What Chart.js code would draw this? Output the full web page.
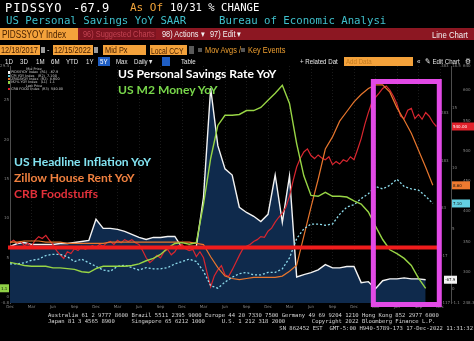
<!DOCTYPE html>
<html>
<head>
<meta charset="utf-8">
<script src="https://cdn.jsdelivr.net/npm/chart.js@4.4.0/dist/chart.umd.min.js"></script>
<style>
  html, body { margin: 0; padding: 0; background: #000; }
  body { width: 474px; height: 341px; position: relative; overflow: hidden; }
  #wrap { position: absolute; left: 0; top: 0; width: 474px; height: 341px; }
  .t { position: absolute; white-space: pre; line-height: 1; }
  .m { font-family: "DejaVu Sans Mono", monospace; }
  .n { font-family: "Liberation Sans", Arial, sans-serif; transform: scaleX(0.82); transform-origin: 0 0; }
  .box { position: absolute; }
  .lbl { position: absolute; white-space: pre; line-height: 1; font-family: Lato, "Open Sans", sans-serif;
         font-weight: 700; font-size: 12.1px; }
  #legend { position: absolute; left: 8px; top: 68px; width: 52px; font-family: "DejaVu Sans", sans-serif;
            font-size: 3.4px; color: #cfcfcf; line-height: 3.35px; }
  #legend .row { white-space: pre; height: 3.35px; }
  #legend .sq { display: inline-block; width: 2.2px; height: 2.2px; margin-right: 1px; }
  .foot { position: absolute; white-space: pre; line-height: 1; font-family: "DejaVu Sans Mono", monospace;
          font-size: 5.55px; color: #d6d6d6; }
  .r4 { font-size: 7.5px; color: #e6e6e6; top: 58px; }
</style>
</head>
<body>
<div id="wrap"><canvas id="chart"></canvas></div>

<!-- terminal header -->
<div class="t m" style="left:5px;top:1.5px;font-size:12px;color:#fff;letter-spacing:1px">PIDSSYO</div>
<div class="t m" style="left:73px;top:1.5px;font-size:12px;color:#fff">-67.9</div>
<div class="t m" style="left:130px;top:2px;font-size:11px;color:#f3a53a">As Of</div>
<div class="t m" style="left:170px;top:2px;font-size:10.6px;color:#fff">10/31 % CHANGE</div>
<div class="t m" style="left:6px;top:16px;font-size:10.7px;color:#3fc0cc">US Personal Savings YoY SAAR</div>
<div class="t m" style="left:219px;top:16px;font-size:10.7px;color:#3fc0cc">Bureau of Economic Analysi</div>

<div class="box" style="left:0;top:28px;width:474px;height:12px;background:#8c1722"></div>
<div class="box" style="left:0;top:28px;width:78px;height:12px;background:#f4a23b"></div>
<div class="t n" style="left:2px;top:29.5px;font-size:10px;color:#4a2200">PIDSSYOY Index</div>
<div class="box" style="left:80px;top:29px;width:76px;height:10px;background:#7c1420"></div>
<div class="t n" style="left:83px;top:30px;font-size:9px;color:#c34352">96) Suggested Charts</div>
<div class="t n" style="left:162px;top:30px;font-size:9px;color:#f2f2f2">98) Actions ▾</div>
<div class="t n" style="left:210px;top:30px;font-size:9px;color:#f2f2f2">97) Edit ▾</div>
<div class="t n" style="left:432px;top:29.5px;font-size:9.5px;color:#f2f2f2">Line Chart</div>

<div class="box" style="left:0;top:45px;width:40px;height:10px;background:#f4a23b"></div>
<div class="t n" style="left:1px;top:46px;font-size:9px;color:#4a2200">12/18/2017</div>
<div class="box" style="left:41px;top:47px;width:4px;height:6px;background:#9a9a9a"></div>
<div class="t n" style="left:47px;top:46px;font-size:9px;color:#d0d0d0">-</div>
<div class="box" style="left:53px;top:45px;width:40px;height:10px;background:#f4a23b"></div>
<div class="t n" style="left:54px;top:46px;font-size:9px;color:#4a2200">12/15/2022</div>
<div class="box" style="left:94px;top:47px;width:4px;height:6px;background:#9a9a9a"></div>
<div class="box" style="left:103px;top:45px;width:43px;height:10px;background:#f4a23b"></div>
<div class="t n" style="left:105px;top:46px;font-size:9px;color:#4a2200">Mid Px</div>
<div class="box" style="left:150px;top:45px;width:37px;height:10px;background:#f4a23b"></div>
<div class="t n" style="left:151px;top:46.5px;font-size:8.3px;color:#4a2200">Local CCY</div>
<div class="box" style="left:189px;top:46px;width:5px;height:8px;background:#5a5a5a"></div>
<div class="box" style="left:198px;top:48px;width:4px;height:4px;background:#555"></div>
<div class="t n" style="left:205px;top:46px;font-size:9px;color:#f0a030">Mov Avgs /</div>
<div class="box" style="left:241px;top:48px;width:4px;height:4px;background:#555"></div>
<div class="t n" style="left:248px;top:46px;font-size:9px;color:#f0a030">Key Events</div>

<div class="t n r4" style="left:5px">1D</div>
<div class="t n r4" style="left:20px">3D</div>
<div class="t n r4" style="left:36px">1M</div>
<div class="t n r4" style="left:51px">6M</div>
<div class="t n r4" style="left:66px">YTD</div>
<div class="t n r4" style="left:86px">1Y</div>
<div class="box" style="left:98px;top:57px;width:12px;height:9px;background:#1f5ec4"></div>
<div class="t n r4" style="left:100px;color:#fff">5Y</div>
<div class="t n r4" style="left:116px">Max</div>
<div class="t n r4" style="left:134px">Daily ▾</div>
<div class="box" style="left:162px;top:57px;width:8px;height:9px;background:#1f5ec4"></div>
<div class="t n r4" style="left:181px">Table</div>
<div class="t n r4" style="left:300px">+ Related Dat</div>
<div class="box" style="left:344px;top:57px;width:69px;height:9px;background:#f4a23b"></div>
<div class="t n r4" style="left:346px;color:#c27a20">Add Data</div>
<div class="t n r4" style="left:417px">«</div>
<div class="t n r4" style="left:425px">✎ Edit Chart</div>
<div class="t n r4" style="left:465px">⚙</div>

<!-- series captions inside the plot -->
<div class="lbl" style="left:118px;top:68px;color:#ffffff">US Personal Savings Rate YoY</div>
<div class="lbl" style="left:118px;top:84px;color:#78d64a">US M2 Money YoY</div>
<div class="lbl" style="left:14px;top:155.5px;color:#82e2f0">US Headline Inflation YoY</div>
<div class="lbl" style="left:14px;top:171.5px;color:#f0803f">Zillow House Rent YoY</div>
<div class="lbl" style="left:14px;top:187.5px;color:#e2303a">CRB Foodstuffs</div>

<div id="legend"></div>

<!-- footer -->
<div class="foot" style="left:48px;top:312.5px">Australia 61 2 9777 8600 Brazil 5511 2395 9000 Europe 44 20 7330 7500 Germany 49 69 9204 1210 Hong Kong 852 2977 6000</div>
<div class="foot" style="left:48px;top:319px">Japan 81 3 4565 8900     Singapore 65 6212 1000     U.S. 1 212 318 2000        Copyright 2022 Bloomberg Finance L.P.</div>
<div class="foot" style="right:1px;top:326px">SN 862452 EST  GMT-5:00 H940-5789-173 17-Dec-2022 11:31:32</div>

<script>
// monthly series, month 0 = Dec 2017
const savingsYoY = [2.1, 8.5, 10.6, 6.4, 6.4, 6.4, 6.4, 8.5, 8.5, 10.6, 12.8, 14.9,
  59.6, 40.4, 40.4, 38.3, 34.0, 27.7, 21.3, 17.0, 21.3, 21.3, 23.4, 23.4,
  0.0, 2.1, 2.1, 106, 336, 215, 166, 153, 85, 74, 66, 55, 70, 153, 53, 151,
  -62, -57, -53, -47, -36, -43, -43, -40, -40, -74, -72, -87, -70, -66, -66, -64, -66, -66, -67.9];

const m2YoY = [4.4, 4.2, 4.0, 3.9, 3.9, 3.9, 3.7, 3.7, 3.6, 3.5, 3.2, 3.1,
  3.6, 3.9, 3.9, 3.9, 3.9, 4.0, 4.2, 4.6, 4.9, 5.4, 6.2, 6.8,
  6.9, 6.7, 6.9, 11.8, 17.6, 21.8, 23.1, 23.1, 23.2, 23.7, 23.7, 24.1, 25.0, 25.9, 26.9, 24.6,
  19.5, 15.4, 12.9, 12.8, 13.3, 12.8, 12.8, 12.7, 12.2, 11.8, 10.8, 9.0, 7.3, 6.0, 5.5, 4.9, 4.0, 2.4, 1.1];

const cpiYoY = [2.1, 2.1, 2.2, 2.4, 2.5, 2.8, 2.9, 2.9, 2.7, 2.3, 2.5, 2.2,
  1.9, 1.6, 1.5, 1.9, 2.0, 1.8, 1.6, 1.8, 1.7, 1.7, 1.8, 2.1,
  2.3, 2.5, 2.3, 1.5, 0.3, 0.1, 0.6, 1.0, 1.3, 1.4, 1.2, 1.2,
  1.4, 1.4, 1.7, 2.6, 4.2, 5.0, 5.4, 5.4, 5.3, 5.4, 6.2, 6.8,
  7.0, 7.5, 7.9, 8.5, 8.3, 8.6, 9.1, 8.5, 8.3, 8.2, 7.7, 7.1];

const zillowRentYoY = [3.9, 3.9, 4.0, 4.0, 4.0, 3.9, 3.9, 3.9, 3.8, 3.8, 3.8, 3.8,
  3.8, 3.8, 3.9, 3.9, 3.9, 3.9, 3.9, 3.9, 3.9, 3.9, 3.9, 3.9,
  3.9, 3.9, 3.8, 3.7, 2.7, 1.8, 1.1, 0.9, 0.8, 0.9, 1.0, 1.0,
  1.0, 1.0, 1.1, 1.5, 2.0, 4.4, 6.8, 9.1, 11.6, 12.6, 13.9, 14.7,
  15.5, 16.1, 16.6, 16.9, 16.9, 16.3, 15.0, 14.0, 12.9, 11.5, 10.1, 8.6];

// CRB foodstuffs, twice a month
const crbFoodstuffs = [348, 352, 347, 350, 343, 347, 342, 352, 358, 355,
  360, 352, 345, 335, 328, 322, 333, 330, 338, 335,
  342, 337, 340, 343, 340, 345, 342, 348, 350, 345,
  352, 348, 353, 350, 353, 348, 345, 335, 323, 315,
  320, 327, 323, 333, 337, 328, 333, 343, 345, 338,
  335, 337, 325, 333, 323, 298, 275, 293, 303, 310,
  295, 292, 303, 315, 327, 338, 342, 345, 350, 353,
  358, 357, 367, 372, 382, 390, 397, 407, 425, 450,
  473, 487, 498, 503, 492, 487, 493, 488, 485, 490,
  477, 482, 478, 485, 482, 490, 485, 502, 520, 543,
  563, 580, 588, 595, 603, 607, 600, 590, 577, 557,
  553, 567, 570, 553, 560, 552, 563, 557, 547, 540];

const xTickLabels = ["Dec", "Mar", "Jun", "Sep", "Dec", "Mar", "Jun", "Sep", "Dec", "Mar", "Jun",
  "Sep", "Dec", "Mar", "Jun", "Sep", "Dec", "Mar", "Jun", "Sep", "Dec"];

const savingsZeroLevel = 0;        // heavy red zero line on the savings axis
const highlightMonths = [50.7, 59.9];

const monthly = arr => arr.map((v, i) => ({ x: i, y: v }));
const halfMonthly = arr => arr.map((v, i) => ({ x: i / 2, y: v }));

const tickFont = { family: "DejaVu Sans", size: 4 };

// red zero line across the plot
const zeroLine = {
  id: "zeroLine",
  afterDatasetsDraw(chart) {
    const { ctx, chartArea: a, scales } = chart;
    const y = scales.ySav.getPixelForValue(savingsZeroLevel);
    ctx.save();
    ctx.strokeStyle = "#f01c1c";
    ctx.lineWidth = 4;
    ctx.beginPath();
    ctx.moveTo(a.left - 2, y);
    ctx.lineTo(a.right - 3, y);
    ctx.stroke();
    ctx.restore();
  }
};

// last value boxes on the axes
const valueTags = {
  id: "valueTags",
  afterDraw(chart) {
    const { ctx } = chart;
    chart.data.datasets.forEach(ds => {
      if (!ds.tag) return;
      const scale = chart.scales[ds.yAxisID];
      const last = ds.data[ds.data.length - 1].y;
      const y = scale.getPixelForValue(last);
      const x = scale.left + ds.tag.dx;
      ctx.save();
      ctx.fillStyle = ds.tag.bg;
      ctx.fillRect(x, y - 4, ds.tag.w, 8);
      ctx.fillStyle = ds.tag.fg;
      ctx.font = "4px DejaVu Sans";
      ctx.textBaseline = "middle";
      ctx.fillText(last.toFixed(ds.tag.digits), x + 1, y + 0.5);
      ctx.restore();
    });
  }
};

// magenta highlight frame around the latest months
const highlightBox = {
  id: "highlightBox",
  afterDraw(chart) {
    const { ctx, chartArea: a, scales } = chart;
    const x0 = scales.x.getPixelForValue(highlightMonths[0]);
    const x1 = scales.x.getPixelForValue(highlightMonths[1]);
    ctx.save();
    ctx.strokeStyle = "#e24ae6";
    ctx.lineWidth = 5;
    ctx.strokeRect(x0, a.top + 15.5, x1 - x0, a.bottom - a.top - 14);
    ctx.restore();
  }
};

const sideAxis = (pos, weight, min, max, step, width, border) => ({
  position: pos, weight: weight, min: min, max: max,
  afterFit(s) { s.width = width; },
  ticks: { stepSize: step, font: tickFont, color: "#858585", padding: 1 },
  grid: { display: false, drawTicks: false },
  border: { display: border, color: "#4d4d4d" }
});

new Chart(document.getElementById("chart"), {
  type: "line",
  data: {
    datasets: [
      { label: "PIDSSYOY Index", data: monthly(savingsYoY), yAxisID: "ySav",
        borderColor: "#f3f3f3", borderWidth: 1.4, backgroundColor: "#0f2a4c", fill: "start", order: 5,
        tag: { bg: "#f2f2f2", fg: "#111", dx: 4, w: 13, digits: 1 } },
      { label: "CRB FOOD Index", data: halfMonthly(crbFoodstuffs), yAxisID: "yCrb",
        borderColor: "#d9262f", borderWidth: 1.2, order: 4,
        tag: { bg: "#e2212b", fg: "#fff", dx: -10, w: 22, digits: 2 } },
      { label: "ZRIOAYOY Index", data: monthly(zillowRentYoY), yAxisID: "yPct",
        borderColor: "#e8762d", borderWidth: 1.2, order: 3,
        tag: { bg: "#ee7a30", fg: "#111", dx: 1, w: 18, digits: 2 } },
      { label: "CPI YOY Index", data: monthly(cpiYoY), yAxisID: "yPct",
        borderColor: "#8edcec", borderWidth: 1.3, borderDash: [2, 2], order: 2,
        tag: { bg: "#63d0e2", fg: "#111", dx: 1, w: 18, digits: 2 } },
      { label: "M2% YOY Index", data: monthly(m2YoY), yAxisID: "yM2",
        borderColor: "#98d545", borderWidth: 1.4, order: 1,
        tag: { bg: "#8fd046", fg: "#111", dx: 0, w: 9, digits: 1 } }
    ]
  },
  options: {
    animation: false,
    responsive: true,
    maintainAspectRatio: false,
    layout: { padding: { top: 66, bottom: 28, left: 0, right: 0 } },
    elements: { point: { radius: 0 }, line: { tension: 0 } },
    plugins: { legend: { display: false }, tooltip: { enabled: false } },
    scales: {
      x: {
        type: "linear", min: 0, max: 60,
        afterFit(s) { s.height = 10; },
        ticks: { stepSize: 3, autoSkip: false, maxRotation: 0, font: tickFont, color: "#858585", padding: 2,
                 callback: v => xTickLabels[v / 3] },
        grid: { color: "rgba(255,255,255,0.10)", drawTicks: false },
        border: { display: false, dash: [1, 2] }
      },
      yM2: sideAxis("left", 0, -0.77, 29.36, 5, 10, true),
      ySav: sideAxis("right", 0, -117, 383, 100, 11, false),
      yPct: sideAxis("right", 1, -1.125, 18.46, 5, 11, true),
      yCrb: sideAxis("right", 2, 248.3, 640, 50, 12, false)
    }
  },
  plugins: [zeroLine, valueTags, highlightBox]
});

// small legend block in the top left corner of the plot
const legendRows = [
  ["", "Mid Price"],
  ["#f2f2f2", "PIDSSYOY Index  (R1)  " + savingsYoY[savingsYoY.length - 1].toFixed(1)],
  ["#63d0e2", "CPI YOY Index   (R2)  " + cpiYoY[cpiYoY.length - 1].toFixed(3)],
  ["#ee7a30", "ZRIOAYOY Index  (R2)  " + zillowRentYoY[zillowRentYoY.length - 1].toFixed(3)],
  ["#8fd046", "M2% YOY Index   (L1)  " + m2YoY[m2YoY.length - 1].toFixed(1)],
  ["", "Last Price"],
  ["#e2212b", "CRB FOOD Index  (R3)  " + crbFoodstuffs[crbFoodstuffs.length - 1].toFixed(2)]
];
document.getElementById("legend").innerHTML = legendRows.map(([c, txt]) =>
  c ? '<div class="row"><span class="sq" style="background:' + c + '"></span>' + txt + '</div>'
    : '<div class="row" style="text-align:center">' + txt + '</div>').join("");
</script>
</body>
</html>
